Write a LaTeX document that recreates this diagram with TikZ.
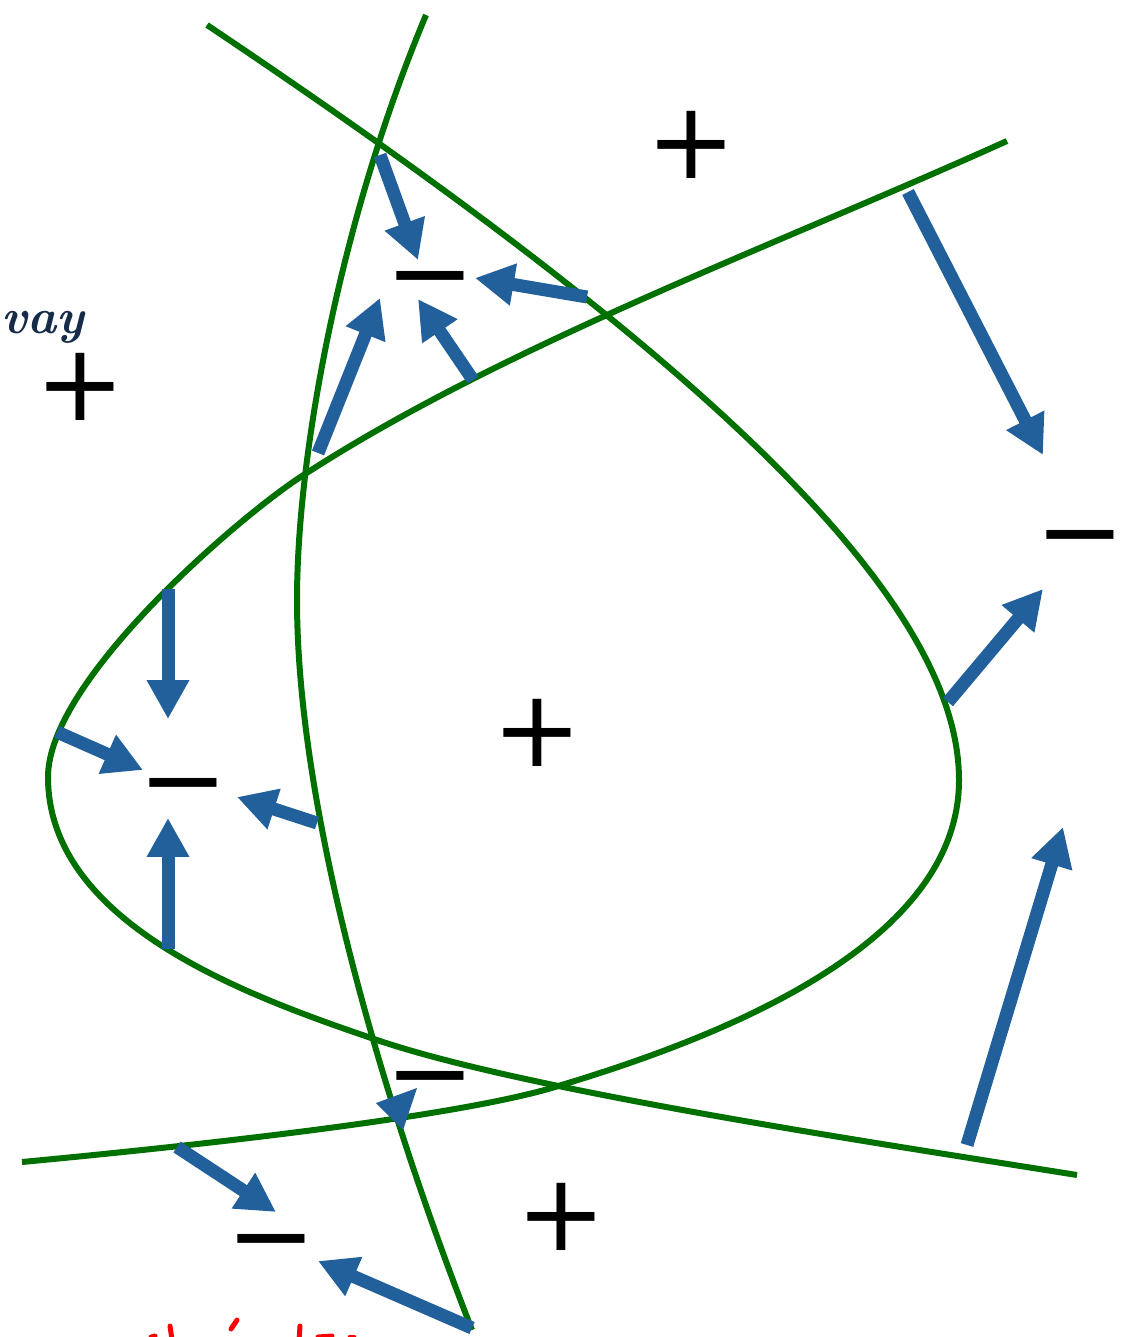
\documentclass[tikz,border=0pt]{standalone}
\usepackage{fontspec}
\usetikzlibrary{arrows.meta}
\newfontfamily\signfont{DejaVu Sans}
\definecolor{curvegreen}{RGB}{0,112,0}
\definecolor{arrowblue}{RGB}{34,96,155}
\definecolor{inknavy}{RGB}{22,43,72}
\definecolor{inkred}{RGB}{255,0,0}
\begin{document}
\begin{tikzpicture}[x=0.02cm,y=-0.02cm,
  curve/.style={draw=curvegreen,line width=0.12cm,line join=round},
  force/.style={draw=arrowblue,line width=0.26cm,-{Triangle[width=0.8cm,length=0.78cm]}},
  sign/.style={inner sep=0pt,font=\signfont\fontsize{61}{61}\selectfont},
  redink/.style={draw=inkred,line width=0.1cm,line cap=round},
]
\useasboundingbox (0,0) rectangle (1125,1337);

% green curves
% right-opening loop (vertex on the right)
\draw[curve] (207,25) .. controls (707,360) and (959,600) .. (959,780)
  .. controls (959,950) and (705,1042) .. (555,1087)
  .. controls (455,1117) and (202,1145) .. (22,1162);
% left-opening loop (vertex on the left)
\draw[curve] (1007,141) .. controls (772,247) and (502,346) .. (302,476)
  .. controls (240,516) and (48,680) .. (48,777)
  .. controls (48,927) and (257,999) .. (377,1040)
  .. controls (527,1091) and (877,1143) .. (1077,1175);
% long arc
\draw[curve] (426,15) .. controls (342,215) and (297,450) .. (297,600)
  .. controls (297,800) and (374.5,1080) .. (472,1330);

% signs
\node[sign] (plusTop) at (691,145) {+};
\node[sign] (minusTop) at (430,276) {\vphantom{+}−};
\node[sign] (plusLeft) at (80,387) {+};
\node[sign] (minusRight) at (1080,535) {\vphantom{+}−};
\node[sign] (plusCenter) at (537,733) {+};
\node[sign] (minusLeft) at (183,783) {\vphantom{+}−};
\node[sign] (minusBottom) at (430,1076) {\vphantom{+}−};
\node[sign] (plusBottom) at (561,1217) {+};
\node[sign] (minusBottomLeft) at (271,1239) {\vphantom{+}−};

\node[anchor=base west,inner sep=0pt,text=inknavy,font=\bfseries\itshape\fontsize{28}{28}\selectfont] (wayLabel) at (1,334) {vay};

% blue arrows
\draw[force] (380,155) -- (418,260);
\draw[force] (587,297) -- (475,278);
\draw[force] (473,380) -- (418,299);
\draw[force] (318,453) -- (380,298);
\draw[force] (908,192) -- (1043,455);
\draw[force] (168,589) -- (168,719);
\draw[force] (57,732) -- (143,770);
\draw[force] (317,823) -- (237,797);
\draw[force] (168,949) -- (168,818);
\draw[force] (948,702) -- (1043,589);
\draw[force] (967,1145) -- (1063,827);
\draw[force] (177,1147) -- (276,1212);
\draw[force] (472,1328) -- (318,1261);
\fill[arrowblue] (376,1103) -- (417,1088) -- (403,1130) -- cycle;

% red handwriting, cut off at the bottom edge
\draw[redink] (151,1337) -- (155,1336);
\draw[redink] (170,1326) -- (172,1340);
\draw[redink] (237,1320) -- (231,1329);
\draw[redink] (300,1326) -- (299,1340);
\draw[redink] (318,1337) -- (332,1336);
\draw[redink] (350,1337) -- (354,1337);
\end{tikzpicture}
\end{document}
